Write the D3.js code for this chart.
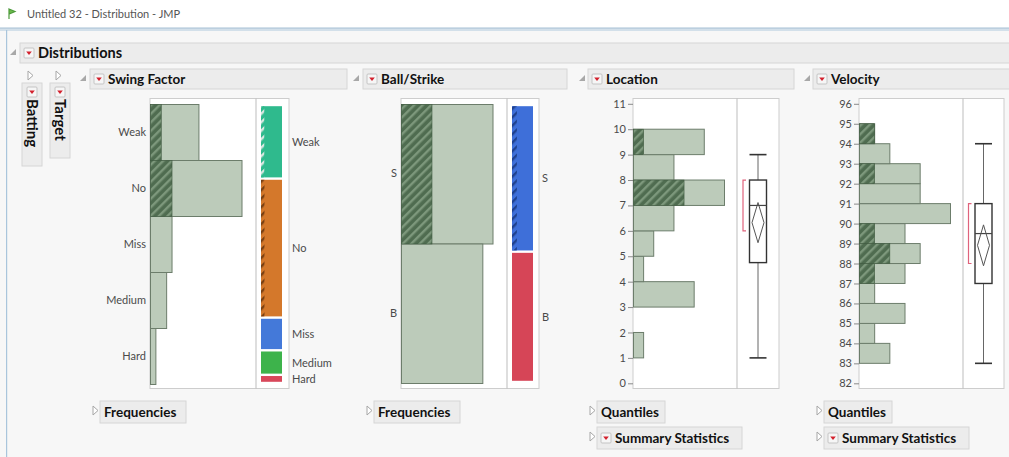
<!DOCTYPE html>
<html>
<head>
<meta charset="utf-8">
<script src="https://cdn.jsdelivr.net/npm/d3@7"></script>
<style>
  html, body { margin: 0; padding: 0; background: #f7f7f7; }
  svg { display: block; font-family: Lato, "Noto Sans", sans-serif; }
</style>
</head>
<body>
<svg id="chart" width="1009" height="457"></svg>
<script>
// ---- Swing Factor (nominal) ----
const swingCategories = ["Weak", "No", "Miss", "Medium", "Hard"];
const swingCounts     = [9, 17, 4, 3, 1];
const swingSelected   = [2, 4, 0, 0, 0];

// ---- Ball/Strike (nominal) ----
const pitchCategories = ["S", "B"];
const pitchCounts     = [18, 16];
const pitchSelected   = [6, 0];

// ---- Location (integer values, unit-width bins) ----
const locationValues   = [1, 3, 4, 5, 6, 7, 8, 9];
const locationCounts   = [1, 6, 1, 2, 4, 9, 4, 7];
const locationSelected = [0, 0, 0, 0, 0, 5, 0, 1];
const locationTicks    = [0, 1, 2, 3, 4, 5, 6, 7, 8, 9, 10, 11];

// ---- Velocity (integer values, unit-width bins) ----
const velocityValues   = [83, 84, 85, 86, 87, 88, 89, 90, 91, 92, 93, 94];
const velocityCounts   = [2, 1, 3, 1, 3, 4, 3, 6, 4, 4, 2, 1];
const velocitySelected = [0, 0, 0, 0, 1, 2, 1, 0, 0, 1, 0, 1];
const velocityTicks    = [82, 83, 84, 85, 86, 87, 88, 89, 90, 91, 92, 93, 94, 95, 96];

// ---- level colours for the mosaic strips ----
const swingColors = ["#2fba8d", "#d4782b", "#4479d9", "#3db34b", "#d8475a"];
const swingHatch  = ["#d9e6e0", "#7a4012", "#274d9c", "#1f7a2c", "#8a2030"];
const pitchColors = ["#3e6fd9", "#d64557"];
const pitchHatch  = ["#1f418f", "#8a2030"];

const BAR_FILL = "#bccbba", BAR_STROKE = "#6c7d6b";
const TEXT = "#4a4a4a";

const svg = d3.select("#chart");
const defs = svg.append("defs");

function hatch(id, base, stripe) {
  const p = defs.append("pattern")
    .attr("id", id).attr("patternUnits", "userSpaceOnUse")
    .attr("width", 6).attr("height", 6)
    .attr("patternTransform", "rotate(45)");
  p.append("rect").attr("width", 6).attr("height", 6).attr("fill", base);
  p.append("rect").attr("width", 2.4).attr("height", 6).attr("fill", stripe);
  return `url(#${id})`;
}
const barHatch = hatch("hatch-bar", "#4f6c50", "#7d987c");

// ---- window chrome ----
svg.append("rect").attr("width", 1009).attr("height", 457).attr("fill", "#f7f7f7");
svg.append("rect").attr("width", 1009).attr("height", 27).attr("fill", "#ffffff");
svg.append("rect").attr("y", 27).attr("width", 1009).attr("height", 4).attr("fill", "#d3e0ea");
svg.append("rect").attr("y", 28).attr("width", 1009).attr("height", 1).attr("fill", "#bccfdf");
svg.append("rect").attr("x", 6).attr("y", 30).attr("width", 1.2).attr("height", 427).attr("fill", "#a9c5dc");
// title flag
svg.append("path").attr("d", "M9,9 L9,19 M9,9 L15,11.5 L9,14 Z")
  .attr("stroke", "#4c9a3a").attr("stroke-width", 1.2).attr("fill", "#6dbb4a");
svg.append("text").attr("x", 27).attr("y", 18)
  .attr("font-size", 11).attr("fill", "#555").text("Untitled 32 - Distribution - JMP");

function openTri(x, y) {
  svg.append("path").attr("d", `M${x + 6},${y} L${x + 6},${y + 6} L${x},${y + 6} Z`)
    .attr("fill", "#a8a8a8");
}
function closedTri(x, y) {
  svg.append("path").attr("d", `M${x},${y} L${x + 5},${y + 4.5} L${x},${y + 9} Z`)
    .attr("fill", "#fff").attr("stroke", "#a6a6a6").attr("stroke-width", 1);
}
function redIcon(x, y) {
  svg.append("rect").attr("x", x).attr("y", y).attr("width", 10).attr("height", 10)
    .attr("rx", 1).attr("fill", "#f6f6f6").attr("stroke", "#c4c4c4");
  svg.append("path").attr("d", `M${x + 2.2},${y + 3.5} L${x + 7.8},${y + 3.5} L${x + 5},${y + 7} Z`)
    .attr("fill", "#d3212d");
}
function header(x, y, w, h, title, size, icon = true) {
  svg.append("rect").attr("x", x).attr("y", y).attr("width", w).attr("height", h)
    .attr("fill", "#ececec").attr("stroke", "#d6d6d6");
  let tx = x + 4;
  if (icon) { redIcon(x + 4, y + (h - 10) / 2); tx = x + 18; }
  svg.append("text").attr("x", tx).attr("y", y + h / 2 + size * 0.36)
    .attr("font-size", size).attr("font-weight", 700).attr("fill", "#111").text(title);
}

// ---- report outline ----
openTri(10, 49);
header(20, 43, 995, 20, "Distributions", 14.5);

closedTri(28, 71);
closedTri(56, 71);
[["Batting", 22, 83, 83], ["Target", 50, 83, 75]].forEach(([t, x, y, h]) => {
  svg.append("rect").attr("x", x).attr("y", y).attr("width", 20).attr("height", h)
    .attr("fill", "#ececec").attr("stroke", "#d6d6d6");
  redIcon(x + 5, y + 4);
  svg.append("text").attr("transform", `translate(${x + 5},${y + 16}) rotate(90)`)
    .attr("font-size", 15).attr("font-weight", 700).attr("fill", "#111").text(t);
});

openTri(80, 75);  header(90, 69, 257, 20, "Swing Factor", 13.5);
openTri(353, 75); header(363, 69, 204, 20, "Ball/Strike", 13.5);
openTri(579, 75); header(588, 69, 206, 20, "Location", 13.5);
openTri(804, 75); header(813, 69, 200, 20, "Velocity", 13.5);

function frame(x0, histW, sideW) {
  svg.append("rect").attr("x", x0).attr("y", 98.5).attr("width", histW + sideW).attr("height", 290)
    .attr("fill", "#fff").attr("stroke", "#cdcdcd");
  svg.append("line").attr("x1", x0 + histW).attr("x2", x0 + histW).attr("y1", 98.5).attr("y2", 388.5)
    .attr("stroke", "#bdbdbd");
}

// ---- nominal distribution: bar histogram + mosaic strip ----
function nominal(o) {
  const { x0, histW, sideW, top, bottom, cats, counts, sel, colors, hatchCols, id } = o;
  frame(x0, histW, sideW);
  const y = d3.scaleBand().domain(cats).range([top, bottom]);
  const x = d3.scaleLinear().domain([0, d3.max(counts)]).range([x0, x0 + 91.5]);
  const g = svg.append("g");
  g.selectAll("rect.bar").data(cats).join("rect")
    .attr("x", x0 + 0.5).attr("y", c => y(c) + 0.5)
    .attr("width", (c, i) => x(counts[i]) - x0).attr("height", y.bandwidth())
    .attr("fill", BAR_FILL).attr("stroke", BAR_STROKE);
  g.selectAll("rect.sel").data(cats.filter((c, i) => sel[i] > 0)).join("rect")
    .attr("x", x0 + 0.5).attr("y", c => y(c) + 0.5)
    .attr("width", c => x(sel[cats.indexOf(c)]) - x0).attr("height", y.bandwidth())
    .attr("fill", barHatch).attr("stroke", "#3f5a40").attr("stroke-width", 0.6);

  const ax = svg.append("g").attr("transform", `translate(${x0 - 2},0)`)
    .call(d3.axisLeft(y).tickSize(0).tickPadding(2));
  ax.select(".domain").remove();
  ax.selectAll("text").attr("font-size", 11).attr("fill", TEXT).attr("font-family", "Lato, 'Noto Sans', sans-serif");

  // mosaic strip
  const total = d3.sum(counts);
  const m = d3.scaleLinear().domain([0, total]).range([top + 1, bottom - 1]);
  const cum = d3.cumsum(counts);
  const mx = x0 + histW + 5, mw = 21;
  cats.forEach((c, i) => {
    const a = m(cum[i] - counts[i]) + 1.2, b = m(cum[i]) - 1.2;
    svg.append("rect").attr("x", mx).attr("y", a).attr("width", mw).attr("height", Math.max(b - a, 1.5))
      .attr("fill", colors[i]);
    if (sel[i] > 0) {
      const fill = hatch(`${id}-h${i}`, colors[i], hatchCols[i]);
      svg.append("rect").attr("x", mx).attr("y", a).attr("width", mw * sel[i] / counts[i] * 0.7)
        .attr("height", b - a).attr("fill", fill);
    }
    svg.append("text").attr("x", x0 + histW + sideW + 3).attr("y", (a + b) / 2 + 4)
      .attr("font-size", 11).attr("fill", TEXT).text(c);
  });
}

nominal({ x0: 150, histW: 106, sideW: 33, top: 104, bottom: 384,
  cats: swingCategories, counts: swingCounts, sel: swingSelected,
  colors: swingColors, hatchCols: swingHatch, id: "swing" });
nominal({ x0: 401, histW: 106, sideW: 32, top: 104, bottom: 383,
  cats: pitchCategories, counts: pitchCounts, sel: pitchSelected,
  colors: pitchColors, hatchCols: pitchHatch, id: "pitch" });

// ---- continuous distribution: histogram + outlier box plot ----
function expand(values, counts) {
  return values.flatMap((v, i) => d3.range(counts[i]).map(() => v));
}
function quantile(sorted, p) {          // (n+1)p interpolation
  const n = sorted.length, pos = (n + 1) * p;
  const lo = Math.max(1, Math.min(n, Math.floor(pos)));
  const hi = Math.max(1, Math.min(n, Math.ceil(pos)));
  return sorted[lo - 1] + (pos - Math.floor(pos)) * (sorted[hi - 1] - sorted[lo - 1]);
}
function shortestHalf(sorted) {
  const k = Math.ceil(sorted.length / 2);
  let best = [sorted[0], sorted[k - 1]];
  for (let i = 0; i + k - 1 < sorted.length; i++) {
    if (sorted[i + k - 1] - sorted[i] < best[1] - best[0]) best = [sorted[i], sorted[i + k - 1]];
  }
  return best;
}
const T975 = 2.0345; // Student t, 0.975 quantile, 33 degrees of freedom

function continuous(o) {
  const { x0, histW, sideW, domain, ticks, values, counts, sel } = o;
  frame(x0, histW, sideW);
  const y = d3.scaleLinear().domain(domain).range([383.3, 103.8]);
  const x = d3.scaleLinear().domain([0, d3.max(counts)]).range([x0, x0 + 91]);
  const g = svg.append("g");
  g.selectAll("rect.bar").data(values).join("rect")
    .attr("x", x0 + 0.5).attr("y", v => y(v + 1))
    .attr("width", (v, i) => x(counts[i]) - x0).attr("height", v => y(v) - y(v + 1))
    .attr("fill", BAR_FILL).attr("stroke", BAR_STROKE);
  g.selectAll("rect.sel").data(values.filter((v, i) => sel[i] > 0)).join("rect")
    .attr("x", x0 + 0.5).attr("y", v => y(v + 1))
    .attr("width", v => x(sel[values.indexOf(v)]) - x0).attr("height", v => y(v) - y(v + 1))
    .attr("fill", barHatch).attr("stroke", "#3f5a40").attr("stroke-width", 0.6);

  const ax = svg.append("g").attr("transform", `translate(${x0},0)`)
    .call(d3.axisLeft(y).tickValues(ticks).tickSize(5).tickPadding(2).tickFormat(d3.format("d")));
  ax.select(".domain").remove();
  ax.selectAll("line").attr("stroke", "#8a8a8a");
  ax.selectAll("text").attr("font-size", 11).attr("fill", TEXT).attr("font-family", "Lato, 'Noto Sans', sans-serif");

  // box plot
  const data = expand(values, counts).sort(d3.ascending);
  const q1 = quantile(data, 0.25), med = quantile(data, 0.5), q3 = quantile(data, 0.75);
  const iqr = q3 - q1;
  const lo = d3.min(data.filter(v => v >= q1 - 1.5 * iqr));
  const hi = d3.max(data.filter(v => v <= q3 + 1.5 * iqr));
  const mean = d3.mean(data), se = d3.deviation(data) / Math.sqrt(data.length);
  const ciLo = mean - T975 * se, ciHi = mean + T975 * se;
  const [sh0, sh1] = shortestHalf(data);

  const cx = x0 + histW + sideW / 2, bw = 17, dw = 12;
  const b = svg.append("g");
  b.append("line").attr("x1", cx).attr("x2", cx).attr("y1", y(hi)).attr("y2", y(q3)).attr("stroke", "#666");
  b.append("line").attr("x1", cx).attr("x2", cx).attr("y1", y(q1)).attr("y2", y(lo)).attr("stroke", "#666");
  [lo, hi].forEach(v => b.append("line").attr("x1", cx - bw / 2).attr("x2", cx + bw / 2)
    .attr("y1", y(v)).attr("y2", y(v)).attr("stroke", "#333").attr("stroke-width", 1.6));
  b.append("rect").attr("x", cx - bw / 2).attr("y", y(q3)).attr("width", bw).attr("height", y(q1) - y(q3))
    .attr("fill", "#fff").attr("stroke", "#333").attr("stroke-width", 1.4);
  b.append("line").attr("x1", cx - bw / 2).attr("x2", cx + bw / 2).attr("y1", y(med)).attr("y2", y(med))
    .attr("stroke", "#444").attr("stroke-width", 1.2);
  b.append("path")
    .attr("d", `M${cx},${y(ciHi)} L${cx + dw / 2},${y(mean)} L${cx},${y(ciLo)} L${cx - dw / 2},${y(mean)} Z`)
    .attr("fill", "none").attr("stroke", "#555").attr("stroke-width", 1);
  const bx = cx - 15;
  b.append("path").attr("d", `M${bx + 3},${y(sh1)} L${bx},${y(sh1)} L${bx},${y(sh0)} L${bx + 3},${y(sh0)}`)
    .attr("fill", "none").attr("stroke", "#e0637c").attr("stroke-width", 1.2);
}

continuous({ x0: 633, histW: 104, sideW: 42, domain: [0, 11], ticks: locationTicks,
  values: locationValues, counts: locationCounts, sel: locationSelected });
continuous({ x0: 859, histW: 104, sideW: 41, domain: [82, 96], ticks: velocityTicks,
  values: velocityValues, counts: velocityCounts, sel: velocitySelected });

// ---- collapsed report sections ----
function section(tx, y, w, title, icon) {
  closedTri(tx, y + 5);
  header(tx + 7, y, w, 22, title, 13.5, icon);
}
section(93, 401, 86, "Frequencies", false);
section(367, 401, 86, "Frequencies", false);
section(590, 401, 68, "Quantiles", false);
section(590, 427, 145, "Summary Statistics", true);
section(817, 401, 68, "Quantiles", false);
section(817, 427, 145, "Summary Statistics", true);
</script>
</body>
</html>
